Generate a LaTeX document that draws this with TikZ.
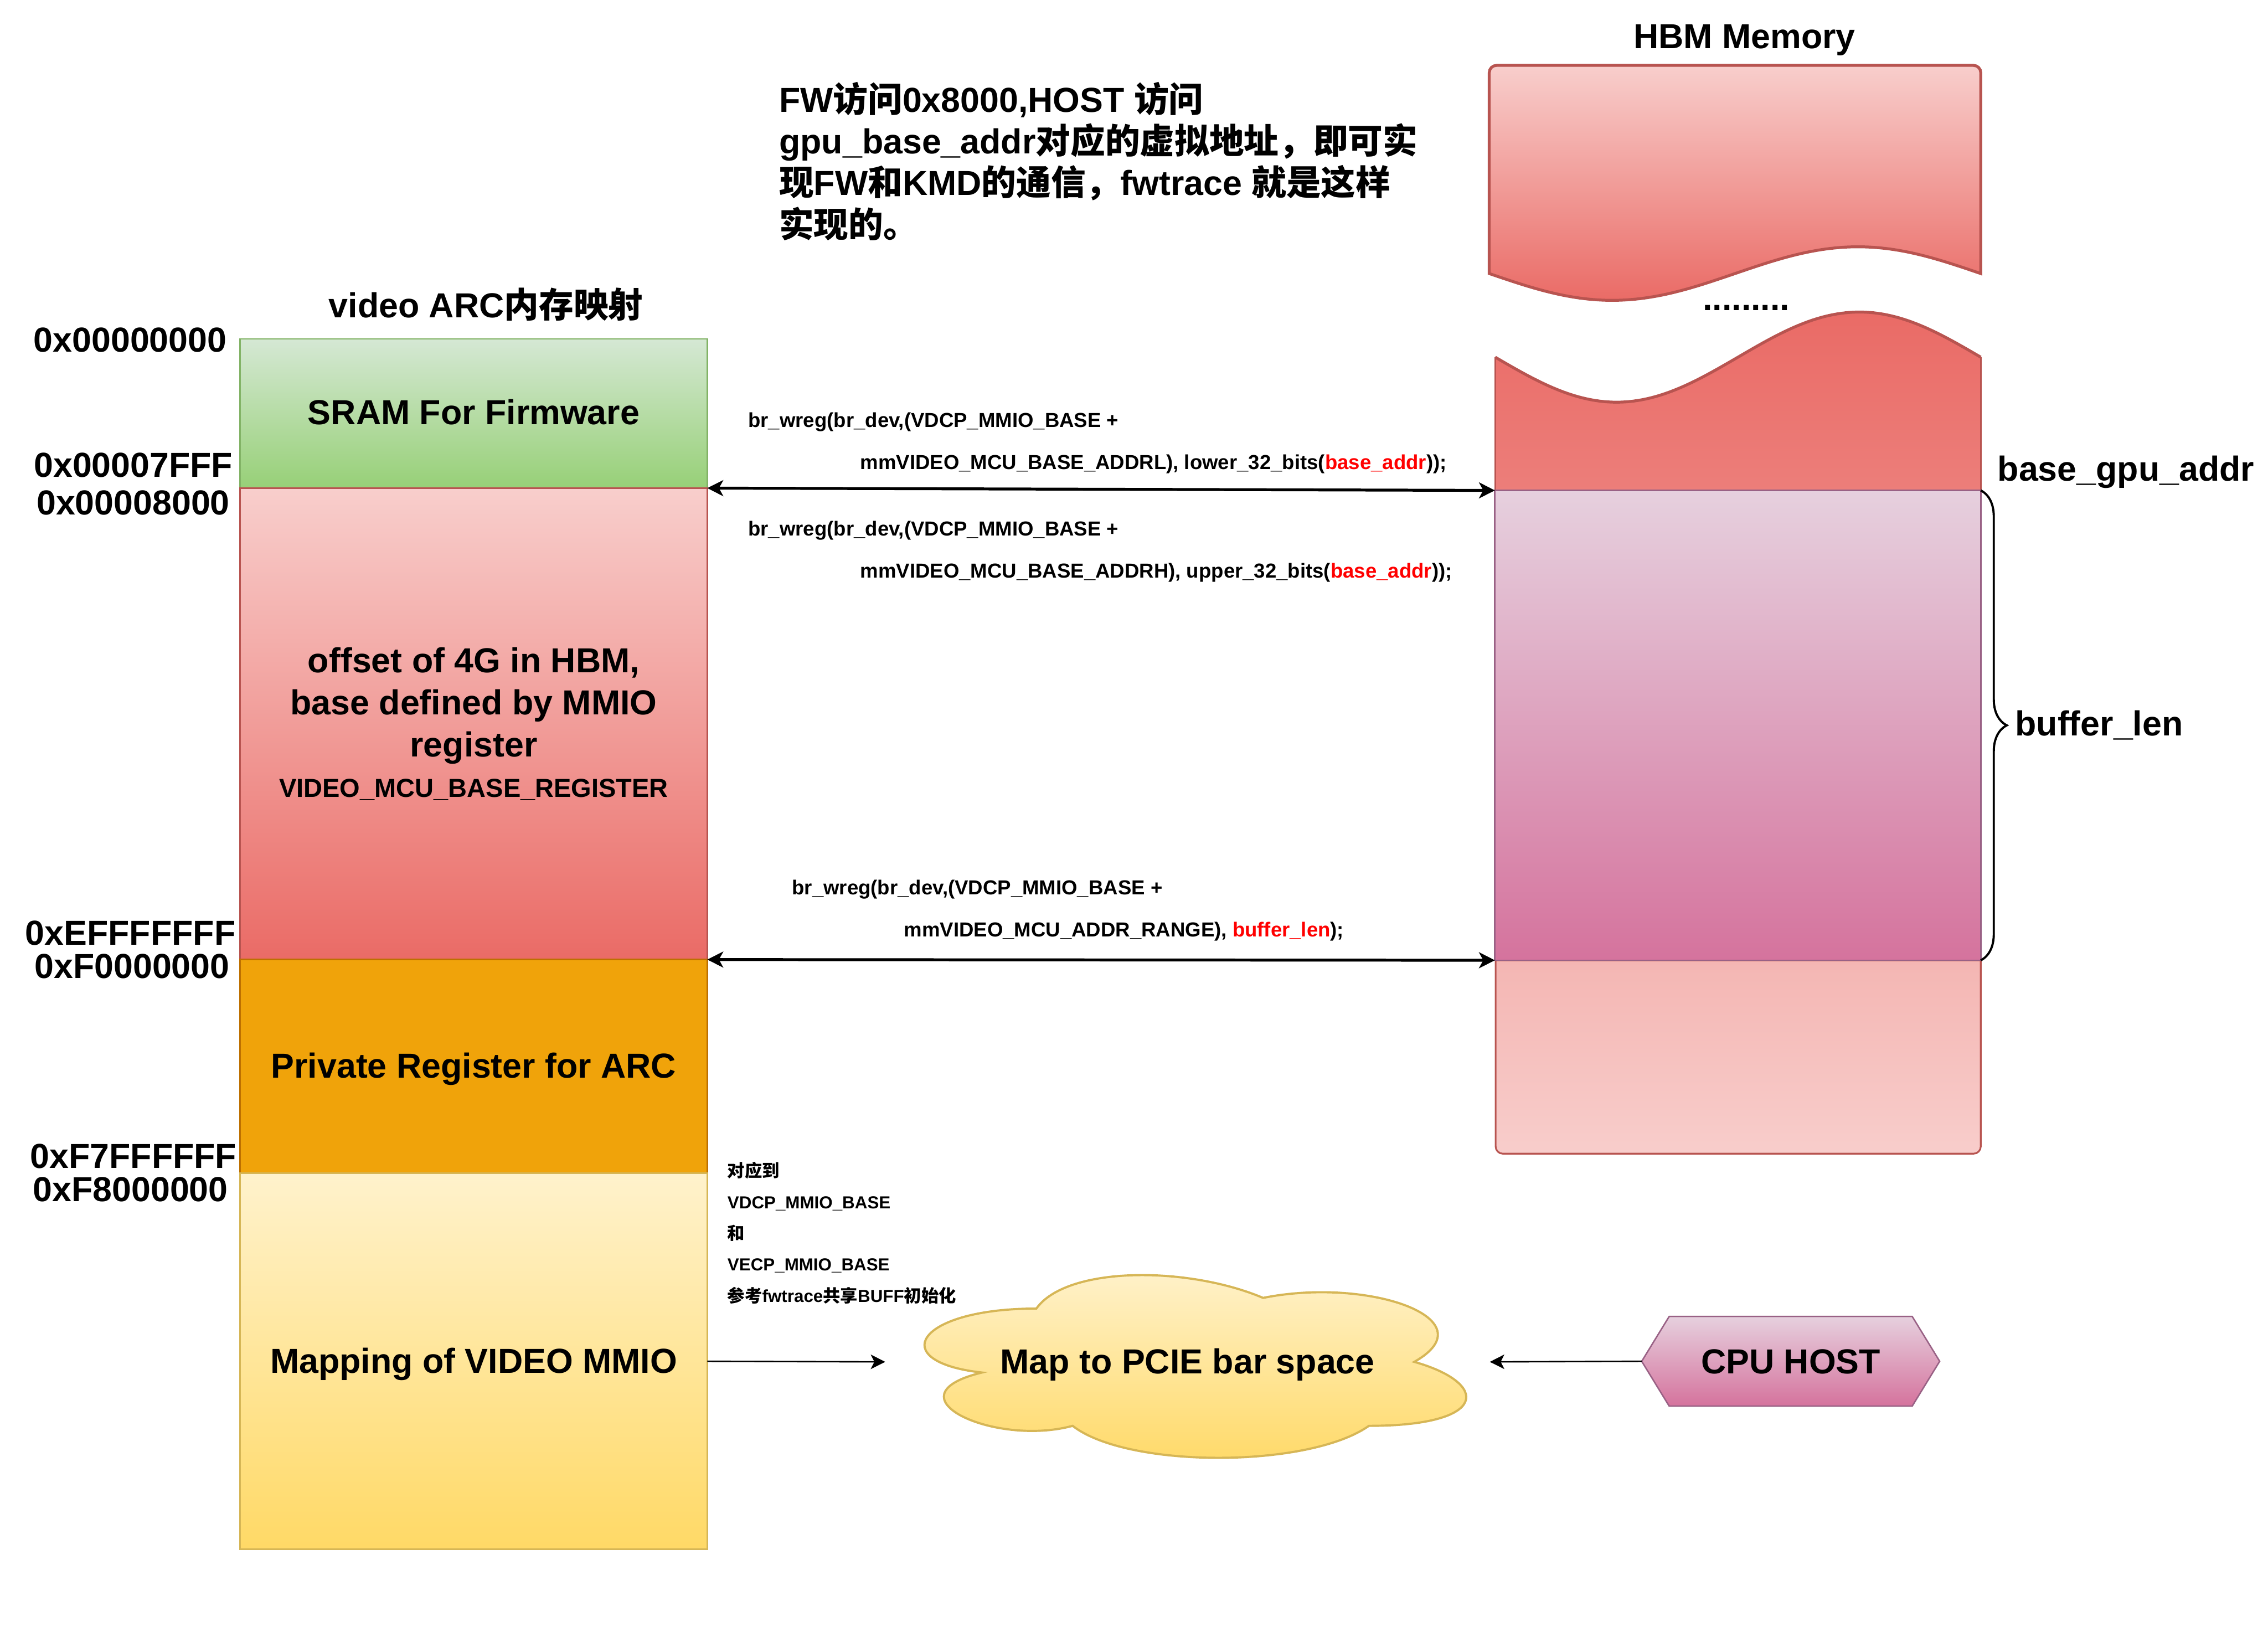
\documentclass[tikz,border=0pt]{standalone}
\usepackage{fontspec}
\setmainfont{Liberation Sans}
\newfontfamily\cjk{Noto Sans CJK SC}
\usetikzlibrary{arrows.meta,decorations.pathreplacing}
\newcommand{\zh}[1]{{\cjk #1}}
\definecolor{gTop}{HTML}{D5E8D4}\definecolor{gBot}{HTML}{97D077}\definecolor{gLine}{HTML}{82B366}
\definecolor{rTop}{HTML}{F8CECC}\definecolor{rBot}{HTML}{EA6B66}\definecolor{rLine}{HTML}{B85450}
\definecolor{oFill}{HTML}{F0A30A}\definecolor{oLine}{HTML}{BD7000}
\definecolor{yTop}{HTML}{FFF2CC}\definecolor{yBot}{HTML}{FFD966}\definecolor{yLine}{HTML}{D6B656}
\definecolor{pTop}{HTML}{E6D0DE}\definecolor{pBot}{HTML}{D5739D}\definecolor{pLine}{HTML}{996185}
\definecolor{lpTop}{HTML}{F4B6B3}\definecolor{lpBot}{HTML}{F8CDCB}
\definecolor{tapeLowBot}{HTML}{EC7E7A}
\definecolor{codeRed}{HTML}{FF0000}
\begin{document}
\begin{tikzpicture}[x=1pt,y=-1pt,
  every node/.style={font=\bfseries},
  mem/.style={draw, line width=1pt, minimum width=323pt, inner sep=0pt, outer sep=0pt, anchor=north west},
  big/.style={font=\bfseries\fontsize{24}{28.8}\selectfont, inner sep=0pt},
  mid/.style={font=\bfseries\fontsize{18}{21.6}\selectfont, inner sep=0pt},
  code/.style={font=\bfseries\fontsize{14}{16.8}\selectfont, inner sep=0pt, anchor=base west},
  note/.style={font=\bfseries\fontsize{12}{14.4}\selectfont, inner sep=0pt, anchor=base west},
  addr/.style={big, anchor=base},
  dbl/.style={line width=2pt, {Stealth[length=11pt,width=11pt,inset=3pt]}-{Stealth[length=11pt,width=11pt,inset=3pt]}},
  sgl/.style={line width=1pt, -{Stealth[length=10pt,width=10pt,inset=2.5pt]}}
]
\useasboundingbox (0,0) rectangle (1568,1128);
\fill[white] (0,0) rectangle (1568,1128);

% ---------- left memory map ----------
\node[mem, minimum height=103.1pt, draw=gLine, top color=gTop, bottom color=gBot] (sram) at (166,234.3) {};
\node[mem, minimum height=325.9pt, draw=rLine, top color=rTop, bottom color=rBot] (offs) at (166,337.4) {};
\node[mem, minimum height=147.7pt, draw=oLine, fill=oFill] (priv) at (166,663.3) {};
\node[mem, minimum height=260pt, draw=yLine, top color=yTop, bottom color=yBot] (mmio) at (166,811) {};

\node[addr] (ttlL) at (336,219.5) {video ARC\zh{内存映射}};
\node[addr] (sramt) at (327.5,293.3) {SRAM For Firmware};
\node[addr] (offs1) at (327.5,464.8) {offset of 4G in HBM,};
\node[addr] (offs2) at (327.5,494.0) {base defined by MMIO};
\node[addr] (offs3) at (327.5,523.1) {register};
\node[mid, anchor=base] (offs4) at (327.5,551.1) {VIDEO\_MCU\_BASE\_REGISTER};
\node[addr] (privt) at (327.5,745.2) {Private Register for ARC};
\node[addr] (mmiot) at (327.5,949.0) {Mapping of VIDEO MMIO};

\node[addr] (a1) at (90.0,243.2) {0x00000000};
\node[addr] (a2) at (92.2,329.6) {0x00007FFF};
\node[addr] (a3) at (92.1,355.7) {0x00008000};
\node[addr] (a4) at (90.2,653.1) {0xEFFFFFFF};
\node[addr] (a5) at (91.3,676.3) {0xF0000000};
\node[addr] (a6) at (92.2,807.7) {0xF7FFFFFF};
\node[addr] (a7) at (90.2,830.5) {0xF8000000};

% ---------- FW note ----------
\node[big, anchor=base west] (fw1) at (538.5,77.5) {FW\zh{访问}0x8000,HOST \zh{访问}};
\node[big, anchor=base west] (fw2) at (538.5,106.3) {gpu\_base\_addr\zh{对应的虚拟地址，即可实}};
\node[big, anchor=base west] (fw3) at (538.5,135.1) {\zh{现}FW\zh{和}KMD\zh{的通信，}fwtrace \zh{就是这样}};
\node[big, anchor=base west] (fw4) at (538.5,163.9) {\zh{实现的。}};

% ---------- HBM memory ----------
\node[addr] (ttlR) at (1206,33.6) {HBM Memory};
\shade[top color=rTop, bottom color=rBot, draw=rLine, line width=2pt]
  (1029.6,189.1) [rounded corners=5pt] -- (1029.6,45.2) -- (1369.4,45.2) [sharp corners] -- (1369.4,189.1)
  sin (1284.45,170.6) cos (1199.5,189.1) sin (1114.55,207.6) cos (1029.6,189.1) -- cycle;
\node[big, anchor=base] (dots) at (1207.3,214.7) {.........};
\shade[top color=rBot, bottom color=tapeLowBot]
  (1033.7,246.9) sin (1117.6,278.0) cos (1201.55,246.9) sin (1285.5,215.7) cos (1369.4,246.9)
  -- (1369.4,339.5) -- (1033.7,339.5) -- cycle;
\draw[rLine, line width=2pt] (1033.7,246.9) sin (1117.6,278.0) cos (1201.55,246.9) sin (1285.5,215.7) cos (1369.4,246.9);
\draw[rLine, line width=1pt] (1033.7,246.9) -- (1033.7,339.5) (1369.4,246.9) -- (1369.4,339.5);
\shade[top color=lpTop, bottom color=lpBot, draw=rLine, line width=1.2pt]
  (1034,663.8) [rounded corners=5pt] -- (1034,797.5) -- (1369.4,797.5) [sharp corners] -- (1369.4,663.8) -- cycle;
\node[draw=pLine, line width=1pt, top color=pTop, bottom color=pBot, minimum width=335.9pt, minimum height=324.8pt,
  inner sep=0pt, outer sep=0pt, anchor=north west] (buf) at (1033.5,339) {};

\node[big, anchor=base west] (bga) at (1380.9,332.6) {base\_gpu\_addr};
\draw[decorate, decoration={brace, amplitude=18pt}, line width=1.5pt] (buf.north east) -- (buf.south east);
\node[big, anchor=base west] (blen) at (1393,508.4) {buffer\_len};

% ---------- register writes ----------
\node[code] (c1) at (517.1,295.2) {br\_wreg(br\_dev,(VDCP\_MMIO\_BASE +};
\node[code] (c2) at (594.6,324.3) {mmVIDEO\_MCU\_BASE\_ADDRL), lower\_32\_bits(\textcolor{codeRed}{base\_addr}));};
\node[code] (c3) at (517.1,370.4) {br\_wreg(br\_dev,(VDCP\_MMIO\_BASE +};
\node[code] (c4) at (594.6,399.5) {mmVIDEO\_MCU\_BASE\_ADDRH), upper\_32\_bits(\textcolor{codeRed}{base\_addr}));};
\node[code] (c5) at (547.4,618.5) {br\_wreg(br\_dev,(VDCP\_MMIO\_BASE +};
\node[code] (c6) at (624.8,647.7) {mmVIDEO\_MCU\_ADDR\_RANGE), \textcolor{codeRed}{buffer\_len});};

\draw[dbl] (offs.north east) -- (buf.north west);
\draw[dbl] (offs.south east) -- (buf.south west);

% ---------- note on MMIO ----------
\node[note] (n1) at (502.8,813.7) {\zh{对应到}};
\node[note] (n2) at (502.8,835.3) {VDCP\_MMIO\_BASE};
\node[note] (n3) at (502.8,856.9) {\zh{和}};
\node[note] (n4) at (502.8,878.5) {VECP\_MMIO\_BASE};
\node[note] (n5) at (502.8,900.1) {\zh{参考}fwtrace\zh{共享}BUFF\zh{初始化}};

% ---------- cloud ----------
\node[minimum width=418pt, minimum height=147.4pt, inner sep=0pt, outer sep=0pt] (cloud) at (821,941.4) {};
\shade[top color=yTop, bottom color=yBot, draw=yLine, line width=1.5pt]
  (716.5,904.55) .. controls (632.9,904.55) and (612,941.4) .. (678.88,948.77)
  .. controls (612,964.98) and (687.24,1000.36) .. (741.58,985.62)
  .. controls (779.2,1015.1) and (904.6,1015.1) .. (946.4,985.62)
  .. controls (1030,985.62) and (1030,956.14) .. (977.75,941.4)
  .. controls (1030,911.92) and (946.4,882.44) .. (873.25,897.18)
  .. controls (821,875.07) and (737.4,875.07) .. (716.5,904.55) -- cycle;
\node[addr] (cloudt) at (821,949.6) {Map to PCIE bar space};

% ---------- CPU host ----------
\node[minimum width=206pt, minimum height=62pt, inner sep=0pt, outer sep=0pt] (cpu) at (1238,941) {};
\shade[top color=pTop, bottom color=pBot, draw=pLine, line width=1pt]
  (cpu.west) -- ([xshift=19pt]cpu.north west) -- ([xshift=-19pt]cpu.north east) -- (cpu.east)
  -- ([xshift=-19pt]cpu.south east) -- ([xshift=19pt]cpu.south west) -- cycle;
\node[addr] (cput) at (1238,949.6) {CPU HOST};

\draw[sgl] (mmio.east) -- (cloud.west);
\draw[sgl] (cpu.west) -- (cloud.east);
\end{tikzpicture}
\end{document}
